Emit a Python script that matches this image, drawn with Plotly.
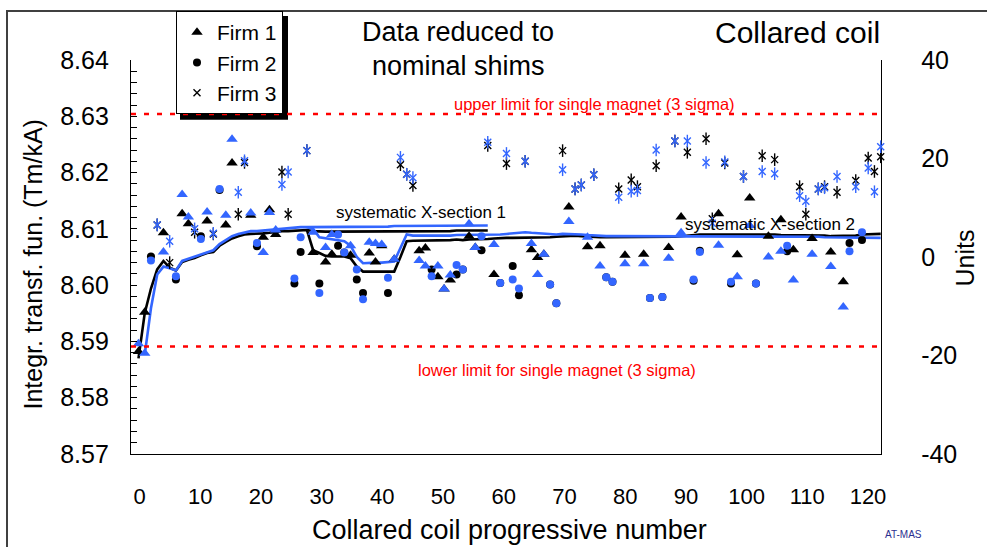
import plotly.graph_objects as go

# ---------------- data ----------------
# coil position index (1..120) on the data axis, values in Tm/kA
firm1_idx = [1, 2, 5, 8, 9, 12, 15, 16, 19, 21, 22, 23, 29, 31, 32, 35, 38, 39, 40, 42, 46, 47, 49, 50, 51, 54, 55, 58,
             64, 65, 66, 70, 73, 75, 79, 82, 86, 88, 94, 97, 99, 102, 104, 106, 109, 112, 114]
firm1_black = [8.5882, 8.5952, 8.6093, 8.6127, 8.6109, 8.6114, 8.6107, 8.6217, 8.6124, 8.6085, 8.6134, 8.6090, 8.6058,
               8.6041, 8.6055, 8.6053, 8.6057, 8.6041, 8.6070, 8.6046, 8.6061, 8.6066, 8.6015, 8.5993, 8.6009, 8.6087,
               8.6067, 8.6019, 8.6063, 8.6049, 8.6055, 8.6139, 8.6068, 8.6070, 8.6053, 8.6055, 8.6067, 8.6121, 8.6127,
               8.6054, 8.6155, 8.6087, 8.6116, 8.6063, 8.6083, 8.6059, 8.6006]
firm1_blue = [8.5896, 8.5879, 8.6059, 8.6161, 8.6121, 8.6130, 8.6124, 8.6259, 8.6128, 8.6058, 8.6129, 8.6098, 8.6094,
              8.6067, 8.6090, 8.6070, 8.6076, 8.6074, 8.6072, 8.6046, 8.6044, 8.6034, 8.6034, 8.5993, 8.6018, 8.6109,
              8.6067, 8.6072, 8.6074, 8.6019, 8.6055, 8.6113, 8.6085, 8.6034, 8.6038, 8.6038, 8.6048, 8.6093, 8.6071,
              8.6015, 8.6106, 8.6050, 8.6060, 8.6009, 8.6055, 8.6033, 8.5961]

firm2_idx = [3, 7, 11, 14, 20, 26, 27, 30, 33, 34, 36, 37, 41, 48, 52, 53, 56, 59, 61, 62, 67, 68, 76, 77, 83, 85,
             90, 91, 96, 100, 105, 115, 117]
firm2_black = [8.6051, 8.6010, 8.6087, 8.6169, 8.6069, 8.6003, 8.6059, 8.6003, 8.6070, 8.6058, 8.6010, 8.5986, 8.5986,
               8.6028, 8.6019, 8.6028, 8.6062, 8.6004, 8.6034, 8.5982, 8.6001, 8.5968, 8.6014, 8.6006, 8.5977, 8.5979,
               8.6008, 8.6061, 8.6003, 8.6003, 8.6060, 8.6075, 8.6080]
firm2_blue = [8.6044, 8.6016, 8.6082, 8.6171, 8.6075, 8.6012, 8.6085, 8.5986, 8.6090, 8.6058, 8.6028, 8.5975, 8.6013,
              8.6016, 8.6036, 8.6028, 8.6087, 8.6004, 8.6010, 8.5994, 8.6001, 8.5968, 8.6014, 8.6006, 8.5977, 8.5979,
              8.6010, 8.6059, 8.6006, 8.6003, 8.6070, 8.6060, 8.6094]

firm3_idx = [4, 6, 10, 13, 17, 18, 24, 25, 28, 43, 44, 45, 57, 60, 63, 69, 71, 72, 74, 78, 80, 81, 84, 87, 89, 92,
             93, 95, 98, 101, 103, 107, 108, 110, 111, 113, 116, 118, 119, 120]
firm3_black = [8.6107, 8.6040, 8.6094, 8.6091, 8.6126, 8.6218, 8.6201, 8.6126, 8.6239, 8.6214, 8.6197, 8.6177, 8.6248,
               8.6216, 8.6220, 8.6239, 8.6171, 8.6178, 8.6196, 8.6171, 8.6187, 8.6175, 8.6212, 8.6256, 8.6236, 8.6260,
               8.6118, 8.6217, 8.6193, 8.6230, 8.6223, 8.6175, 8.6126, 8.6171, 8.6175, 8.6165, 8.6186, 8.6226, 8.6202,
               8.6228]
firm3_blue = [8.6107, 8.6078, 8.6100, 8.6092, 8.6165, 8.6221, 8.6179, 8.6201, 8.6239, 8.6227, 8.6197, 8.6191, 8.6254,
              8.6234, 8.6220, 8.6205, 8.6171, 8.6178, 8.6196, 8.6156, 8.6167, 8.6168, 8.6240, 8.6256, 8.6256, 8.6218,
              8.6110, 8.6219, 8.6193, 8.6202, 8.6198, 8.6159, 8.6149, 8.6171, 8.6173, 8.6193, 8.6175, 8.6208, 8.6166,
              8.6246]

# systematic X-section 1 (running averages), coil index 1..57 (black) / 2..57 (blue)
sys1_black_idx = list(range(1, 58))
sys1_black = [8.5870, 8.5950, 8.5994, 8.6028, 8.6043, 8.6031, 8.6026, 8.6041, 8.6045, 8.6048,
              8.6053, 8.6057, 8.6059, 8.6070, 8.6077, 8.6083, 8.6087, 8.6090, 8.6091, 8.6091,
              8.6092, 8.6093, 8.6095, 8.6096, 8.6096, 8.6097, 8.6098, 8.6098, 8.6096, 8.6095,
              8.6095, 8.6095, 8.6095, 8.6095, 8.6095, 8.6095, 8.6095, 8.6095, 8.6095, 8.6096,
              8.6096, 8.6096, 8.6096, 8.6096, 8.6096, 8.6096, 8.6096, 8.6096, 8.6096, 8.6096,
              8.6096, 8.6097, 8.6097, 8.6097, 8.6097, 8.6097, 8.6097]
sys1_blue_idx = list(range(2, 58))
sys1_blue = [8.5876, 8.5959, 8.6019, 8.6033, 8.6030, 8.6026, 8.6043, 8.6047, 8.6050,
             8.6055, 8.6059, 8.6062, 8.6073, 8.6080, 8.6087, 8.6091, 8.6094, 8.6096, 8.6096,
             8.6097, 8.6099, 8.6100, 8.6101, 8.6101, 8.6102, 8.6103, 8.6103, 8.6103, 8.6103,
             8.6103, 8.6103, 8.6103, 8.6104, 8.6104, 8.6104, 8.6104, 8.6104, 8.6104, 8.6104,
             8.6104, 8.6105, 8.6105, 8.6105, 8.6105, 8.6105, 8.6105, 8.6105, 8.6105, 8.6105,
             8.6106, 8.6106, 8.6106, 8.6106, 8.6106, 8.6106, 8.6106]

# systematic X-section 2, coil index 28..120
sys2_idx = list(range(28, 121))
sys2_black = [8.6098, 8.6062, 8.6057, 8.6052, 8.6051, 8.6051, 8.6051, 8.6048, 8.6033, 8.6024,
              8.6024, 8.6024, 8.6024, 8.6024, 8.6024, 8.6050, 8.6078,
              8.6079, 8.6079, 8.6080, 8.6080, 8.6079, 8.6080, 8.6080, 8.6081, 8.6080, 8.6081, 8.6081, 8.6081, 8.6082,
              8.6083, 8.6084, 8.6084, 8.6084, 8.6084, 8.6084, 8.6084, 8.6084, 8.6084, 8.6085, 8.6086, 8.6087, 8.6088,
              8.6088, 8.6087, 8.6086, 8.6085, 8.6085, 8.6085, 8.6085, 8.6085, 8.6085, 8.6085, 8.6085, 8.6085, 8.6085,
              8.6085, 8.6085, 8.6086, 8.6086, 8.6087, 8.6088, 8.6090,
              8.6090, 8.6090, 8.6090, 8.6091, 8.6091, 8.6091, 8.6091, 8.6091, 8.6091, 8.6091, 8.6090, 8.6090, 8.6090,
              8.6089, 8.6089, 8.6089, 8.6088, 8.6088, 8.6088, 8.6088, 8.6088, 8.6087, 8.6087, 8.6087, 8.6087, 8.6088,
              8.6090, 8.6090, 8.6091, 8.6091]
sys2_blue = [8.6103, 8.6100, 8.6085, 8.6083, 8.6081, 8.6079, 8.6078, 8.6070, 8.6050, 8.6039,
             8.6040, 8.6040, 8.6040, 8.6041, 8.6042, 8.6066, 8.6090,
             8.6088, 8.6088, 8.6087, 8.6087, 8.6088, 8.6088, 8.6088, 8.6089, 8.6089, 8.6089, 8.6089, 8.6090, 8.6090,
             8.6090, 8.6090, 8.6091, 8.6092, 8.6093, 8.6094, 8.6093, 8.6092, 8.6091, 8.6090, 8.6090, 8.6091, 8.6091,
             8.6091, 8.6090, 8.6089, 8.6088, 8.6088, 8.6087, 8.6087, 8.6087, 8.6087, 8.6087, 8.6087, 8.6087, 8.6087,
             8.6087, 8.6087, 8.6087, 8.6087, 8.6087, 8.6087, 8.6087,
             8.6087, 8.6087, 8.6087, 8.6087, 8.6087, 8.6087, 8.6087, 8.6087, 8.6087, 8.6087, 8.6087, 8.6087, 8.6087,
             8.6087, 8.6087, 8.6086, 8.6086, 8.6086, 8.6086, 8.6086, 8.6085, 8.6085, 8.6085, 8.6085, 8.6085, 8.6084,
             8.6084, 8.6084, 8.6084, 8.6084]

upper_limit = 8.6304
lower_limit = 8.5891

x_tick_labels = [0, 10, 20, 30, 40, 50, 60, 70, 80, 90, 100, 110, 120]
left_ticks = [8.57, 8.58, 8.59, 8.60, 8.61, 8.62, 8.63, 8.64]
right_ticks = [-40, -20, 0, 20, 40]
right_tick_text = ["-40", "-20", "0", "20", "40"]

# ---------------- style ----------------
BLACK = "#000000"
BLUE = "#3366FF"
FONT = "Liberation Sans, Arial, sans-serif"

fig = go.Figure()

def line_trace(x, y, color):
    fig.add_trace(go.Scatter(x=x, y=y, xaxis="x2", yaxis="y", mode="lines",
                             line=dict(color=color, width=2.6), showlegend=False, hoverinfo="skip"))

line_trace(sys1_black_idx, sys1_black, BLACK)
line_trace(sys2_idx, sys2_black, BLACK)
line_trace(sys1_blue_idx, sys1_blue, BLUE)
line_trace(sys2_idx, sys2_blue, BLUE)

def marker_trace(x, y, color, symbol, size, name=None, legend=False, open_=False):
    mk = dict(color=color, symbol=symbol, size=size)
    if open_:
        mk["line"] = dict(color=color, width=1.4)
    else:
        mk["line"] = dict(width=0)
    fig.add_trace(go.Scatter(x=x, y=y, xaxis="x2", yaxis="y", mode="markers", marker=mk,
                             name=name, showlegend=legend, cliponaxis=False))

# black series (with legend) first, blue on top
marker_trace(firm1_idx, firm1_black, BLACK, "triangle-up", 10, "Firm 1", True)
marker_trace(firm2_idx, firm2_black, BLACK, "circle", 8, "Firm 2", True)
marker_trace(firm3_idx, firm3_black, BLACK, "x-thin-open", 7, "Firm 3", True, True)
marker_trace(firm3_idx, firm3_black, BLACK, "line-ns-open", 9, open_=True)
marker_trace(firm1_idx, firm1_blue, BLUE, "triangle-up", 10)
marker_trace(firm2_idx, firm2_blue, BLUE, "circle", 8)
marker_trace(firm3_idx, firm3_blue, BLUE, "x-thin-open", 7, open_=True)
marker_trace(firm3_idx, firm3_blue, BLUE, "line-ns-open", 9, open_=True)

# right "Units" axis carrier
fig.add_trace(go.Scatter(x=[None], y=[None], xaxis="x", yaxis="y2", showlegend=False, hoverinfo="skip"))

L, R, T, B = 131, 106, 59, 93
W, H = 987, 547
PW, PH = W - L - R, H - T - B

def px_x(p):
    return (p - L) / PW

def px_y(p):
    return (H - B - p) / PH

fig.update_layout(
    width=W, height=H,
    margin=dict(l=L, r=R, t=T, b=B),
    paper_bgcolor="white", plot_bgcolor="white",
    font=dict(family=FONT, color="black"),
    xaxis=dict(range=[-1.4, 122.14], tickvals=x_tick_labels, ticks="inside", ticklen=6, tickcolor="black",
               showline=True, linecolor="black", linewidth=1.3, showgrid=False, zeroline=False,
               tickfont=dict(size=22), ticklabelstandoff=22,
               minor=dict(dtick=1, tick0=0, ticks="inside", ticklen=3, tickcolor="black")),
    xaxis2=dict(range=[-0.2, 120.05], overlaying="x", visible=False),
    yaxis=dict(range=[8.57, 8.64], tickvals=left_ticks, tickformat=".2f", ticks="inside", ticklen=6,
               tickcolor="black", showline=True, linecolor="black", linewidth=1.3, showgrid=False,
               zeroline=False, tickfont=dict(size=25), ticklabelstandoff=16,
               minor=dict(dtick=0.002, tick0=8.57, ticks="inside", ticklen=6, tickcolor="black")),
    yaxis2=dict(range=[-40, 40], overlaying="y", side="right", anchor="x", tickvals=right_ticks,
                ticktext=right_tick_text,
                ticks="inside", ticklen=7, tickcolor="black", showline=True, linecolor="black", linewidth=1.3,
                showgrid=False, zeroline=False, tickfont=dict(size=25), ticklabelstandoff=34,
                minor=dict(dtick=5, tick0=0, ticks="inside", ticklen=7, tickcolor="black")),
    legend=dict(x=px_x(176), y=px_y(11), xanchor="left", yanchor="top", bgcolor="white",
                bordercolor="black", borderwidth=1, font=dict(size=21), traceorder="normal",
                itemsizing="trace", itemwidth=30),
    showlegend=True,
)

shapes = [
    # outer frame
    dict(type="rect", xref="paper", yref="paper", x0=px_x(7), x1=px_x(1100), y0=px_y(10), y1=px_y(700),
         line=dict(color="#404040", width=2), layer="below"),
    # legend shadow
    dict(type="rect", xref="paper", yref="paper", x0=px_x(180), x1=px_x(288), y0=px_y(119), y1=px_y(15),
         fillcolor="black", line=dict(width=0), layer="above"),
    # limits
    dict(type="line", xref="paper", yref="y", x0=0, x1=1, y0=upper_limit, y1=upper_limit,
         line=dict(color="red", width=2.5, dash="5px,8px")),
    dict(type="line", xref="paper", yref="y", x0=0, x1=1, y0=lower_limit, y1=lower_limit,
         line=dict(color="red", width=2.5, dash="5px,8px")),
]
fig.update_layout(shapes=shapes)

ann = [
    dict(text="Data reduced to", x=px_x(458), y=px_y(31), size=27, color="black"),
    dict(text="nominal shims", x=px_x(458), y=px_y(65), size=27, color="black"),
    dict(text="Collared coil", x=px_x(882), y=px_y(31), size=30, color="black", xanchor="right"),
    dict(text="upper limit for single magnet (3 sigma)", x=px_x(594), y=px_y(103), size=16.5, color="red"),
    dict(text="lower limit for single magnet (3 sigma)", x=px_x(557), y=px_y(370), size=16.5, color="red"),
    dict(text="systematic X-section 1", x=px_x(421), y=px_y(212), size=17, color="black"),
    dict(text="systematic X-section 2", x=px_x(770), y=px_y(224), size=17, color="black"),
    dict(text="Integr. transf. fun. (Tm/kA)", x=px_x(33), y=px_y(264), size=25, color="black", angle=-90),
    dict(text="Units", x=px_x(965), y=px_y(258), size=25, color="black", angle=-90),
    dict(text="Collared coil progressive number", x=px_x(509), y=px_y(530), size=27, color="black"),
    dict(text="AT-MAS", x=px_x(903), y=px_y(535), size=10, color="#2B2F8F"),
]
for a in ann:
    fig.add_annotation(text=a["text"], x=a["x"], y=a["y"], xref="paper", yref="paper", showarrow=False,
                       xanchor=a.get("xanchor", "center"), yanchor="middle", textangle=a.get("angle", 0),
                       font=dict(size=a["size"], color=a["color"], family=FONT))

fig.write_html("out.html")
